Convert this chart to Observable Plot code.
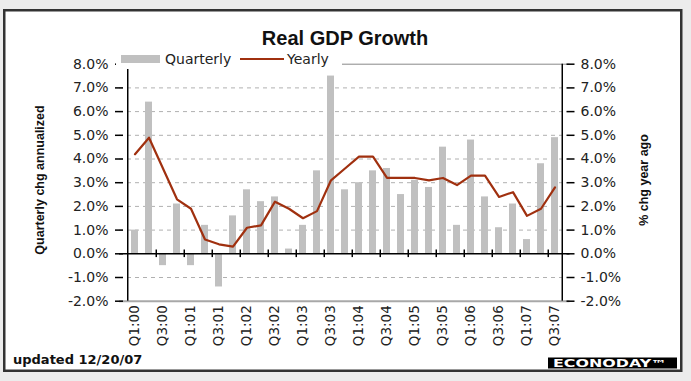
<!DOCTYPE html>
<html><head><meta charset="utf-8">
<script src="https://cdn.jsdelivr.net/npm/d3@7"></script>
<script src="https://cdn.jsdelivr.net/npm/@observablehq/plot@0.6"></script>
<style>
body{margin:0;background:#ececec;}
#wrap{position:relative;width:691px;height:381px;overflow:hidden;background:#ececec;}
#wrap svg{position:absolute;left:0;top:0;}
#overlay{pointer-events:none;}
</style></head><body>
<div id="wrap">
<svg id="under" width="691" height="381"><rect x="4.25" y="10.25" width="677" height="360.5" fill="#fff" stroke="#333" stroke-width="2.5"/></svg>
<div id="chart"></div>
<svg id="overlay" width="691" height="381">
  <text x="345" y="45" text-anchor="middle" font-family="Liberation Sans, Arial, sans-serif" font-weight="bold" font-size="20" fill="#111">Real GDP Growth</text>
  <rect x="116" y="49" width="226" height="20" fill="#fff"/>
  <rect x="121" y="55" width="39" height="8" fill="#c0c0c0"/>
  <text x="165" y="64" font-family="DejaVu Sans" font-size="14" fill="#222">Quarterly</text>
  <line x1="240" x2="284" y1="59" y2="59" stroke="#a0300f" stroke-width="2"/>
  <text x="287" y="64" font-family="DejaVu Sans" font-size="14" fill="#222">Yearly</text>
  <text transform="translate(44,180) rotate(-90)" text-anchor="middle" font-family="Liberation Sans, Arial, sans-serif" font-weight="bold" font-size="12.5" fill="#111">Quarterly chg annualized</text>
  <text transform="translate(648,180) rotate(-90)" text-anchor="middle" font-family="Liberation Sans, Arial, sans-serif" font-weight="bold" font-size="12.5" fill="#111">% chg year ago</text>
  <text x="13" y="364" font-family="DejaVu Sans" font-weight="bold" font-size="13" fill="#111">updated 12/20/07</text>
  <rect x="548" y="357.5" width="129" height="11" fill="#000"/>
  <text x="553" y="367" textLength="114" lengthAdjust="spacingAndGlyphs" font-family="DejaVu Sans" font-weight="bold" font-size="10" fill="#fff">ECONODAY™</text>
</svg>
</div>
<script>
const quarters = ["Q1:00","Q2:00","Q3:00","Q4:00","Q1:01","Q2:01","Q3:01","Q4:01","Q1:02","Q2:02","Q3:02","Q4:02","Q1:03","Q2:03","Q3:03","Q4:03","Q1:04","Q2:04","Q3:04","Q4:04","Q1:05","Q2:05","Q3:05","Q4:05","Q1:06","Q2:06","Q3:06","Q4:06","Q1:07","Q2:07","Q3:07"];
const quarterly = [1.0, 6.4, -0.5, 2.1, -0.5, 1.2, -1.4, 1.6, 2.7, 2.2, 2.4, 0.2, 1.2, 3.5, 7.5, 2.7, 3.0, 3.5, 3.6, 2.5, 3.1, 2.8, 4.5, 1.2, 4.8, 2.4, 1.1, 2.1, 0.6, 3.8, 4.9];
const yearly = [4.2, 4.9, 3.6, 2.3, 1.9, 0.6, 0.4, 0.3, 1.1, 1.2, 2.2, 1.9, 1.5, 1.8, 3.1, 3.6, 4.1, 4.1, 3.2, 3.2, 3.2, 3.1, 3.2, 2.9, 3.3, 3.3, 2.4, 2.6, 1.6, 1.9, 2.8];
const yTicks = [-2, -1, 0, 1, 2, 3, 4, 5, 6, 7, 8];
const gridTicks = [-1, 1, 2, 3, 4, 5, 6, 7];
const xLabels = quarters.filter((d, i) => i % 2 === 0);

const data = quarters.map((q, i) => ({q, qv: quarterly[i], yv: yearly[i]}));

const W = 691, H = 381, mL = 119, mR = 121.5, mT = 63.7, mB = 80.3;
const step = (W - mL - mR) / quarters.length;
const fmt = d => d.toFixed(1) + "%";

const chart = Plot.plot({
  width: W, height: H,
  marginLeft: mL, marginRight: mR, marginTop: mT, marginBottom: mB,
  style: {fontFamily: "DejaVu Sans", fontSize: "14px", background: "transparent", color: "#222", overflow: "visible"},
  x: {type: "band", domain: quarters, paddingInner: 0.5, paddingOuter: 0.25, label: null},
  y: {domain: [-2, 8], label: null},
  marks: [
    Plot.ruleY(gridTicks, {stroke: "#b0b0b0", strokeWidth: 1, strokeDasharray: "4,4"}),
    Plot.barY(data, {x: "q", y: "qv", fill: "#c0c0c0"}),
    Plot.ruleY([8], {stroke: "#888", strokeWidth: 1}),
    Plot.ruleY([-2], {stroke: "#a8a8a8", strokeWidth: 2}),
    Plot.ruleY([0], {stroke: "#000", strokeWidth: 1.5}),
    Plot.ruleX(data.filter((d, i) => i % 2 === 1 && i < quarters.length - 1), {x: "q", y1: -0.16, y2: 0.16, dx: step / 2, stroke: "#000", strokeWidth: 1.5}),
    Plot.line(data, {x: "q", y: "yv", stroke: "#a0300f", strokeWidth: 2.2}),
    Plot.ruleX([quarters[0]], {y1: -2, y2: 8, dx: -step / 2, stroke: "#000", strokeWidth: 1.5}),
    Plot.ruleX([quarters[quarters.length - 1]], {y1: -2, y2: 8, dx: step / 2, stroke: "#000", strokeWidth: 1.5}),
    Plot.axisY({anchor: "left", ticks: yTicks, tickSize: 8, dx: 4, tickFormat: () => "", stroke: "#000", strokeWidth: 1.5}),
    Plot.axisY({anchor: "right", ticks: yTicks, tickSize: 8, dx: -4, tickFormat: () => "", stroke: "#000", strokeWidth: 1.5}),
    Plot.axisY({anchor: "left", ticks: yTicks, tickSize: 0, tickPadding: 11, tickFormat: fmt, fill: "#222", fontSize: 14}),
    Plot.axisY({anchor: "right", ticks: yTicks, tickSize: 0, tickPadding: 10.5, tickFormat: fmt, fill: "#222", fontSize: 14}),
    Plot.axisX({anchor: "bottom", ticks: xLabels, tickSize: 0, tickPadding: 4, tickRotate: -90, fill: "#222", fontSize: 13.5})
  ]
});
document.getElementById("chart").appendChild(chart);
</script>
</body></html>
